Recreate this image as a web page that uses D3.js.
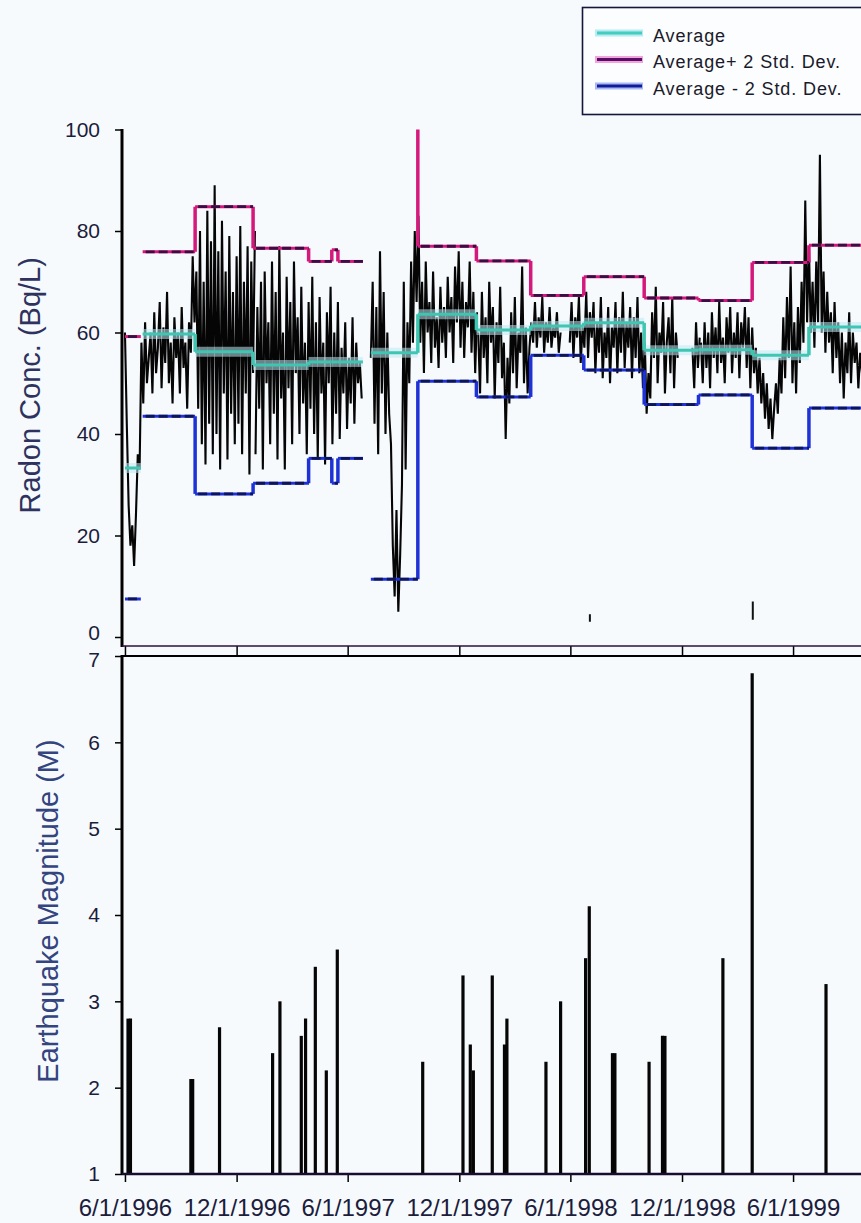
<!DOCTYPE html>
<html>
<head>
<meta charset="utf-8">
<script src="https://cdn.jsdelivr.net/npm/d3@7"></script>
<style>
  body { margin: 0; background: #f6fafd; }
  svg { display: block; }
  text { font-family: "Liberation Sans", Arial, sans-serif; }
</style>
</head>
<body>
<svg id="chart"></svg>
<script>
// radon readings, one every 3 days from each start date (Bq/L)
const sampleStep = 3;
const radon1996 = [60,42,26,18,22,14,24,36,33,58, 46,62,50,55,60,48,64,52,57,66,
    49,61,54,68,50,58,46,63,55,60, 48,65,53,58,45,62,56,75,62,72,
    45,80,38,70,34,84,42,78,36,89, 40,76,33,82,48,72,35,79,44,68,
    38,75,42,81,36,70,48,77,32,74, 52,80];
const radon1997a = [36,65,45,70,33,72,50,62,38,74, 44,68,35,77,47,60,33,71,49,66,
    38,74,52,63,40,69,46,58,36,66, 45,71,40,62,35,67,48,58,34,64,
    50,69,38,60,44,66,39,57,48,62, 41,55,46,63,42,58,50,54,47];
const radon1997b = [55,70,42,65,36,76,48,68,40,60, 44,38,18,8,25,5,16,30,70,33,
    62,50,74,58,80,66,83,58,70,52, 74,60,66,54,72,57,63,53,69,58,
    65,55,71,60,67,54,73,62,76,57, 70,55,66,61,74,56,68,52,64];
const radon1998 = [60,48,68,55,63,50,70,58,65,47, 62,54,69,51,58,39,55,46,64,52,
    67,49,60,56,73,50,61,48,57,62, 58,66,57,63,59,67,56,62,58,65,
    57,61,59,64,56,60,null,null,null,null, 58,66,55,63,59,67,54,61,57,68,
    55,64,59,66,52,62,56,67,51,60, 55,65,50,61,57,66,52,63,56,68,
    53,62,57,65,51,63,55,67,52,60, 49,58,44,52,47,64,55,69,50,60,
    56,66,48,58,63,52,67,49,60,55, null,null,null,null,null,null,null,57,49,62,
    53,59];
const radon1999 = [58,50,62,53,60,49,64,55,61,52, 66,54,59,50,63,56,65,52,60,55,
    64,51,62,57,65,53,63,49,61,52, 57,48,55,46,52,43,50,41,47,39,
    45,50,44,55,48,63,51,67,55,73, 50,62,48,65,54,70,58,86,62,77,
    60,70,57,74,62,95,60,72,56,68, 58,64,52,66,55,62,50,60,47,58,
    52,64,50,60,54,58,49,56,52,57];
const radonBlocks = [
  ['1996-06-01', radon1996], ['1997-01-01', radon1997a],
  ['1997-07-09', radon1997b], ['1998-01-01', radon1998], ['1999-01-01', radon1999]
];
const spikeDates = ['1998-07-03', '1999-03-27'];
const spikeLow = [3.0, 3.4];
const spikeHigh = [4.5, 7.0];

// period statistics
const segStart = ['1996-06-01','1996-06-30','1996-09-24','1996-12-28','1997-03-29','1997-05-06','1997-05-16',
    '1997-07-09','1997-09-24','1997-12-29','1998-03-28','1998-06-23','1998-09-30','1998-12-28','1999-03-26','1999-06-27'];
const segEnd = ['1996-06-27','1996-09-24','1996-12-28','1997-03-29','1997-05-06','1997-05-16','1997-06-26',
    '1997-09-24','1997-12-29','1998-03-28','1998-06-23','1998-09-30','1998-12-28','1999-03-26','1999-06-27','1999-10-01'];
const segAvg   = [33.3, 59.7, 56.2, 53.6, 54.2, 54.2, 54.2, 56.0, 63.6, 60.5, 61.3, 61.9, 56.5, 56.6, 55.5, 61.1];
const segUpper = [59.2, 75.9, 84.8, 76.6, 74.0, 76.3, 74.0, 100.6, 77.0, 74.1, 67.3, 71.0, 66.8, 66.3, 73.8, 77.2];
const segLower = [7.5, 43.5, 28.2, 30.3, 35.2, 30.3, 35.2, 11.4, 50.4, 47.3, 55.5, 52.6, 45.8, 47.7, 37.2, 45.1];

// earthquakes
const quakeDates = ['1996-06-06','1996-06-10','1996-09-17','1996-09-20','1996-11-03','1997-01-29','1997-02-10',
    '1997-03-17','1997-03-24','1997-04-09','1997-04-27','1997-05-15','1997-10-02','1997-12-07','1997-12-19',
    '1997-12-24','1998-01-24','1998-02-13','1998-02-17','1998-04-22','1998-05-16','1998-06-26','1998-07-02',
    '1998-08-09','1998-08-13','1998-10-08','1998-10-30','1998-11-03','1999-02-06','1999-03-26','1999-07-25'];
const quakeMag = [2.8,2.8,2.1,2.1,2.7,2.4,3.0, 2.6,2.8,3.4,2.2,3.6,2.3,3.3,2.5,
    2.2,3.3,2.5,2.8,2.3,3.0,3.5,4.1, 2.4,2.4,2.3,2.6,2.6,3.5,6.8,3.2];

const tickDates = ['1996-06-01','1996-12-01','1997-06-01','1997-12-01','1998-06-01','1998-12-01','1999-06-01'];
const tickLabels = ['6/1/1996','12/1/1996','6/1/1997','12/1/1997','6/1/1998','12/1/1998','6/1/1999'];
const radonTicks = [0, 20, 40, 60, 80, 100];
const magTicks = [1, 2, 3, 4, 5, 6, 7];

const W = 861, H = 1223;
const parse = d3.utcParse('%Y-%m-%d');

const svg = d3.select('#chart').attr('width', W).attr('height', H);
svg.append('rect').attr('width', W).attr('height', H).attr('fill', '#f6fafd');

const x = d3.scaleUtc()
    .domain([parse('1996-05-26'), parse('1999-10-01')])
    .range([121.3, 867.5]);
const yTop = d3.scaleLinear().domain([0, 100]).range([637, 129.5]);
const yBot = d3.scaleLinear().domain([1, 7]).range([1174, 656]);

const axisX = 122;

svg.append('clipPath').attr('id', 'topclip')
    .append('rect').attr('x', axisX).attr('y', 129.5).attr('width', W).attr('height', 520);

/**
 ** radon series
 */
const topG = svg.append('g').attr('clip-path', 'url(#topclip)');

const radonLine = d3.line()
    .defined(d => d.v != null)
    .x(d => x(d.date))
    .y(d => yTop(d.v));

radonBlocks.forEach(([start, values]) => {
    const t0 = parse(start);
    const pts = values.map((v, i) => ({ date: d3.utcDay.offset(t0, i * sampleStep), v }));
    topG.append('path')
        .datum(pts)
        .attr('d', radonLine)
        .attr('fill', 'none')
        .attr('stroke', '#050505')
        .attr('stroke-width', 2.1);
});

topG.selectAll('line.spike')
    .data(spikeDates.map((d, i) => ({ date: parse(d), lo: spikeLow[i], hi: spikeHigh[i] })))
    .join('line')
    .attr('x1', d => x(d.date)).attr('x2', d => x(d.date))
    .attr('y1', d => yTop(d.lo)).attr('y2', d => yTop(d.hi))
    .attr('stroke', '#111').attr('stroke-width', 2);

function stepSeries(values, base, dark, halo) {
    const segs = values.map((v, i) => ({ s: parse(segStart[i]), e: parse(segEnd[i]), v }));
    const joins = [];
    for (let i = 0; i < segs.length - 1; i++) {
        if (segEnd[i] === segStart[i + 1]) joins.push({ date: segs[i].e, from: segs[i].v, to: segs[i + 1].v });
    }
    const g = topG.append('g');
    if (halo) {
        g.selectAll('line.halo').data(segs).join('line')
            .attr('x1', d => x(d.s)).attr('x2', d => x(d.e))
            .attr('y1', d => yTop(d.v)).attr('y2', d => yTop(d.v))
            .attr('stroke', halo).attr('stroke-width', 10).attr('stroke-opacity', 0.55);
    }
    g.selectAll('line.v').data(joins).join('line')
        .attr('x1', d => x(d.date)).attr('x2', d => x(d.date))
        .attr('y1', d => yTop(d.from)).attr('y2', d => yTop(d.to))
        .attr('stroke', base).attr('stroke-width', 3.5);
    g.selectAll('line.h').data(segs).join('line')
        .attr('x1', d => x(d.s)).attr('x2', d => x(d.e))
        .attr('y1', d => yTop(d.v)).attr('y2', d => yTop(d.v))
        .attr('stroke', base).attr('stroke-width', 3);
    if (dark) {
        g.selectAll('line.d').data(segs).join('line')
            .attr('x1', d => x(d.s) + 3).attr('x2', d => x(d.e))
            .attr('y1', d => yTop(d.v)).attr('y2', d => yTop(d.v))
            .attr('stroke', dark).attr('stroke-width', 2.8)
            .attr('stroke-dasharray', '9,4');
    }
}

stepSeries(segUpper, '#d4187c', '#3c0c44', null);
stepSeries(segLower, '#1f32d6', '#0e1458', null);
stepSeries(segAvg, '#3ec6b2', null, '#bfe9f4');

/**
 ** top axes
 */
const yAxisTop = svg.append('g')
    .attr('transform', `translate(${axisX},0)`)
    .call(d3.axisLeft(yTop).tickValues(radonTicks).tickSize(7).tickPadding(15));
yAxisTop.select('.domain').remove();

svg.append('line')
    .attr('x1', axisX).attr('x2', axisX).attr('y1', 129).attr('y2', 647)
    .attr('stroke', '#000').attr('stroke-width', 3);

const xAxisTop = svg.append('g')
    .attr('transform', 'translate(0,646)')
    .call(d3.axisBottom(x).tickValues(tickDates.map(parse)).tickSize(9).tickFormat(''));
xAxisTop.select('.domain').remove();

svg.append('line')
    .attr('x1', axisX).attr('x2', W).attr('y1', 646).attr('y2', 646)
    .attr('stroke', '#2a1040').attr('stroke-width', 1.5);

/**
 ** earthquakes
 */
const bars = quakeDates.map((d, i) => ({ date: parse(d), m: quakeMag[i] }));

svg.append('g').selectAll('line')
    .data(bars)
    .join('line')
    .attr('x1', d => x(d.date)).attr('x2', d => x(d.date))
    .attr('y1', yBot(1)).attr('y2', d => yBot(d.m))
    .attr('stroke', '#050505').attr('stroke-width', 3.2);

const yAxisBot = svg.append('g')
    .attr('transform', `translate(${axisX},0)`)
    .call(d3.axisLeft(yBot).tickValues(magTicks).tickSize(7).tickPadding(15).tickFormat(d3.format('d')));
yAxisBot.select('.domain').remove();

svg.append('line')
    .attr('x1', axisX).attr('x2', axisX).attr('y1', 655).attr('y2', 1175)
    .attr('stroke', '#000').attr('stroke-width', 3);

svg.append('line')
    .attr('x1', axisX).attr('x2', W).attr('y1', 656).attr('y2', 656)
    .attr('stroke', '#000').attr('stroke-width', 2);

const xAxisBot = svg.append('g')
    .attr('transform', `translate(0,${yBot(1)})`)
    .call(d3.axisBottom(x).tickValues(tickDates.map(parse)).tickSize(8).tickPadding(17)
        .tickFormat((d, i) => tickLabels[i]));
xAxisBot.select('.domain').remove();

svg.append('line')
    .attr('x1', axisX).attr('x2', W).attr('y1', yBot(1)).attr('y2', yBot(1))
    .attr('stroke', '#1a0c30').attr('stroke-width', 2.5);

svg.selectAll('.tick text')
    .attr('font-size', 21)
    .attr('font-family', '"Liberation Sans", Arial, sans-serif')
    .attr('fill', '#1c1c3c');
xAxisBot.selectAll('.tick text').attr('font-size', 24);
svg.selectAll('.tick line').attr('stroke', '#000').attr('stroke-width', 1.5);

// keep the neighbouring "0" and "7" labels apart
yAxisTop.selectAll('.tick text').filter(d => d === 0).attr('dy', '0.1em');
yAxisBot.selectAll('.tick text').filter(d => d === 7).attr('dy', '0.5em');

// axis titles
svg.append('text')
    .attr('transform', `translate(40,${(yTop(0) + yTop(100)) / 2 + 2}) rotate(-90)`)
    .attr('text-anchor', 'middle')
    .attr('font-size', 29)
    .attr('fill', '#2e325e')
    .text('Radon Conc. (Bq/L)');

svg.append('text')
    .attr('transform', `translate(58,${(yBot(1) + yBot(7)) / 2 - 4}) rotate(-90)`)
    .attr('text-anchor', 'middle')
    .attr('font-size', 29)
    .attr('fill', '#33447e')
    .text('Earthquake Magnitude (M)');

/**
 ** legend
 */
const legendItems = ['Average', 'Average+ 2 Std. Dev.', 'Average - 2 Std. Dev.'];
const legendBase = ['#44ccbc', '#5a0c66', '#121c98'];
const legendHalo = ['#b6ecf4', '#f0a6dc', '#a8b8f4'];

const legend = svg.append('g');
legend.append('rect')
    .attr('x', 582.5).attr('y', 7.5).attr('width', 300).attr('height', 107)
    .attr('fill', '#fbfdff').attr('stroke', '#16163c').attr('stroke-width', 1.6);

legendItems.forEach((name, i) => {
    const ly = 33 + i * 26.5;
    legend.append('line')
        .attr('x1', 595).attr('x2', 643).attr('y1', ly).attr('y2', ly)
        .attr('stroke', legendHalo[i]).attr('stroke-width', 7);
    legend.append('line')
        .attr('x1', 597).attr('x2', 642).attr('y1', ly).attr('y2', ly)
        .attr('stroke', legendBase[i]).attr('stroke-width', 3);
    legend.append('text')
        .attr('x', 653).attr('y', ly + 8.5)
        .attr('font-size', 18)
        .attr('letter-spacing', 0.9)
        .attr('fill', '#1a1a2a')
        .text(name);
});
</script>
</body>
</html>
